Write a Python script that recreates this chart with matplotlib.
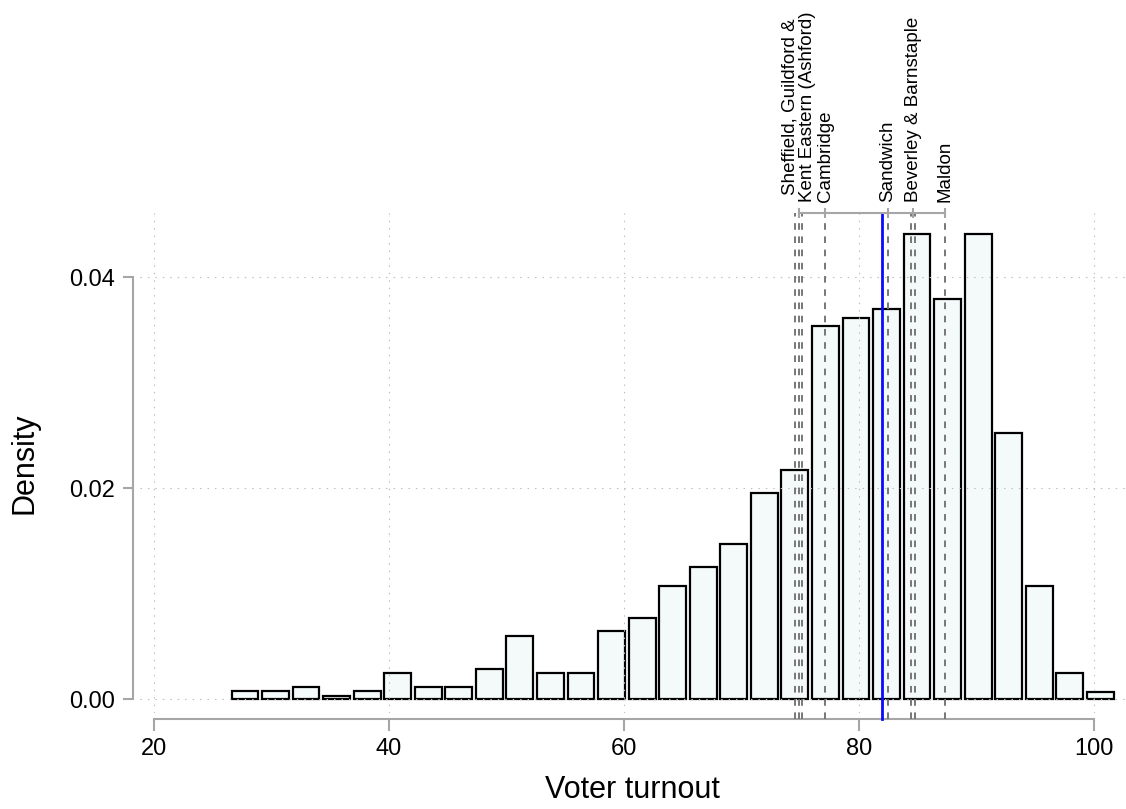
import numpy as np
import matplotlib
matplotlib.use("Agg")
import matplotlib.pyplot as plt

matplotlib.rcParams["font.family"] = ["Liberation Sans", "DejaVu Sans"]

# histogram (density), 29 bins of width 2.6
bin_start = 26.44
bin_width = 2.6
density = [0.00072, 0.00072, 0.00117, 0.00025, 0.00072, 0.0025, 0.00114, 0.00114,
           0.00287, 0.0060, 0.0025, 0.0025, 0.0064, 0.0077, 0.01074, 0.01251,
           0.01469, 0.01949, 0.0217, 0.0354, 0.0361, 0.0370, 0.04405, 0.03791,
           0.04405, 0.02524, 0.01074, 0.00247, 0.0007]

# marked constituencies (dashed lines) and the mean (blue line)
marked_x = [74.54, 74.86, 75.17, 77.13, 82.46, 84.46, 84.76, 87.29]
mean_x = 81.93
label_x = [74.86, 77.13, 82.46, 84.6, 87.29]
label_txt = ["Sheffield, Guildford &\nKent Eastern (Ashford)", "Cambridge",
             "Sandwich", "Beverley & Barnstaple", "Maldon"]

xticks = [20, 40, 60, 80, 100]
yticks = [0.00, 0.02, 0.04]

spine_col = "#a6a6a6"
grid_col = "#bdbdbd"

fig = plt.figure(figsize=(11.26, 8.09), dpi=100)
W, H = 1126, 809
ax = fig.add_axes([140 / W, 1 - 713 / H, (1125 - 140) / W, (713 - 213) / H])

centers = bin_start + bin_width / 2 + bin_width * np.arange(len(density))
ax.bar(centers, density, width=2.285, color="#f4fafa", edgecolor="black",
       linewidth=1.6, zorder=1)

ax.set_xlim(18.81, 102.64)
ax.set_ylim(-0.001327, 0.04607)

ax.set_xticks(xticks)
ax.set_yticks(yticks)
ax.set_yticklabels(["%.2f" % v for v in yticks])
ax.grid(True, color=grid_col, linestyle=(0, (1.3, 5.4)), linewidth=0.8)
ax.set_axisbelow(False)

for s in ["top", "right"]:
    ax.spines[s].set_visible(False)
ax.spines["left"].set_position(("outward", 5))
ax.spines["bottom"].set_position(("outward", 4.5))
ax.spines["left"].set_bounds(0, 0.04)
ax.spines["bottom"].set_bounds(20, 100)
for s in ["left", "bottom"]:
    ax.spines[s].set_color(spine_col)
    ax.spines[s].set_linewidth(1.5)
ax.tick_params(axis="y", length=7.2, width=1.5, color=spine_col, pad=5.8, labelsize=17)
ax.tick_params(axis="x", length=8.6, width=1.5, color=spine_col, pad=4.7, labelsize=17)

ax.set_xlabel("Voter turnout", fontsize=22)
ax.xaxis.label.set_va("center")
ax.xaxis.set_label_coords(0.5, -0.154)
ax.set_ylabel("Density", fontsize=22)
ax.yaxis.label.set_va("center")
ax.yaxis.set_label_coords(-0.1168, 0.5)

for x in marked_x:
    ax.axvline(x, ymin=-0.012, ymax=1, color="#777777", linewidth=1.4,
               linestyle=(0, (3.4, 3.4)), clip_on=False, zorder=3)
ax.axvline(mean_x, ymin=-0.012, ymax=1, color="#0a0aff", linewidth=2,
           clip_on=False, zorder=4)

# top axis with the constituency names
top = ax.twiny()
top.set_xlim(ax.get_xlim())
top.set_xticks(label_x)
top.set_xticklabels(label_txt, rotation=90, fontsize=13.5, linespacing=1.0)
for s in ["left", "right", "bottom"]:
    top.spines[s].set_visible(False)
top.spines["top"].set_bounds(label_x[0], label_x[-1])
top.spines["top"].set_color(spine_col)
top.spines["top"].set_linewidth(1.5)
top.tick_params(axis="x", direction="inout", length=6.5, width=1.5,
                color=spine_col, pad=5)

fig.savefig("out.png", dpi=100)
